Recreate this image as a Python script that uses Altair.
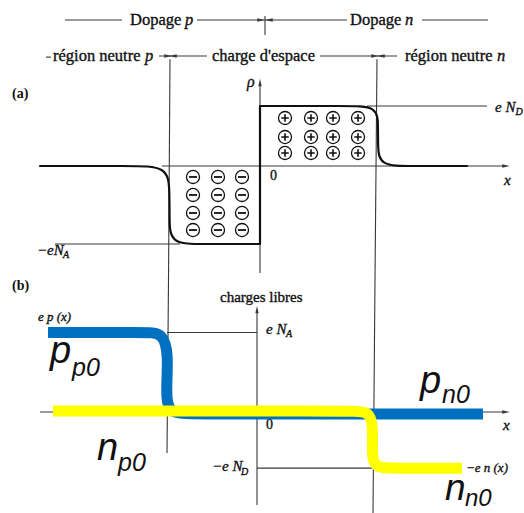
import altair as alt
import pandas as pd

# ---------------------------------------------------------------
# Jonction p-n : (a) densité de charge rho(x), (b) charges libres
# ---------------------------------------------------------------

# (a) space-charge density, in units of e*N (x in arbitrary length units)
XP_A, XN_A = -0.90, 1.17          # depletion-zone edges
N_A_A, N_D_A = 1.30, 1.00         # acceptor / donor levels
rho_x = [-2.20, -1.30, -0.92, -0.905, -0.905, -0.90, -0.58, 0.0, 0.0, 0.0,
         0.0, 0.0, 0.0, 0.86, 1.175, 1.18, 1.18, 1.19, 1.52, 2.07]
rho_y = [0.0, 0.0, 0.0, -0.42, -0.88, -1.30, -1.30, -1.30, -1.30, -1.30,
         1.00, 1.00, 1.00, 1.00, 1.00, 0.66, 0.34, 0.0, 0.0, 0.0]
plus_x = [0.25, 0.51, 0.73, 0.98]
plus_y = [0.80, 0.483, 0.217]
minus_x = [-0.67, -0.42, -0.18]
minus_y = [-0.183, -0.483, -0.783, -1.067]

# (b) free carriers: e p(x) (holes) and -e n(x) (electrons)
XP_B, XN_B = -0.90, 1.16
P_P0, N_N0 = 1.36, 0.96
hole_x = [-2.09, -1.12, -0.94, -0.885, -0.91, -0.89, -0.66, 2.26]
hole_y = [1.36, 1.36, 1.36, 0.98, 0.36, -0.034, -0.034, -0.034]
elec_x = [-2.04, 0.93, 1.13, 1.16, 1.15, 1.17, 1.38, 2.05]
elec_y = [0.017, 0.017, 0.017, -0.26, -0.70, -0.96, -0.96, -0.96]

SERIF = "Liberation Serif"
SANS = "Liberation Sans"
INK = "#111111"
THIN = "#383838"
BLUE = "#0070C0"
YELLOW = "#FFFF00"

XA = alt.Scale(domain=[-2.60, 2.64], nice=False, zero=False)
YA = alt.Scale(domain=[-1.90, 166 / 60], nice=False, zero=False)
XB = alt.Scale(domain=[-2.57, 2.67], nice=False, zero=False)
YB = alt.Scale(domain=[-101 / 58.5, 132 / 58.5], nice=False, zero=False)


def enc_xy(xs, ys):
    return dict(x=alt.X("x:Q", scale=xs, axis=None),
                y=alt.Y("y:Q", scale=ys, axis=None))


def rules(rows, xs, ys, width=1.1, color=THIN):
    df = pd.DataFrame(rows, columns=["x", "y", "x2", "y2"])
    return alt.Chart(df).mark_rule(strokeWidth=width, color=color, clip=True).encode(
        x2="x2:Q", y2="y2:Q", **enc_xy(xs, ys))


def path(px, py, xs, ys, width, color, cap="round"):
    df = pd.DataFrame({"x": px, "y": py, "i": range(len(px))})
    return alt.Chart(df).mark_line(
        interpolate="basis", strokeWidth=width, color=color,
        strokeCap=cap, strokeJoin="round", clip=True
    ).encode(order=alt.Order("i:Q"), **enc_xy(xs, ys))


def texts(rows, xs, ys, font=SERIF, style="normal", weight="normal",
          align="left", baseline="middle", stroke=0.35):
    df = pd.DataFrame(rows, columns=["t", "x", "y", "s"])
    props = dict(font=font, fontStyle=style, fontWeight=weight, align=align,
                 baseline=baseline, color=INK, clip=True)
    if stroke > 0:
        props.update(stroke=INK, strokeWidth=stroke)
    return alt.Chart(df).mark_text(**props).encode(
        text="t:N", size=alt.Size("s:Q", scale=None, legend=None),
        **enc_xy(xs, ys))


def arrows(rows, xs, ys):
    heads = {
        "right": "M-1,-0.45L1,0L-1,0.45Z",
        "left": "M1,-0.45L-1,0L1,0.45Z",
        "up": "M-0.45,1L0,-1L0.45,1Z",
    }
    df = pd.DataFrame(rows, columns=["x", "y", "d"])
    df["shape"] = df["d"].map(heads)
    return alt.Chart(df).mark_point(filled=True, size=56, color=THIN,
                                    opacity=1, clip=True).encode(
        shape=alt.Shape("shape:N", scale=None, legend=None), **enc_xy(xs, ys))


def marks_grid(xv, yv, xs, ys, shape, size, width):
    df = pd.DataFrame([(a, b) for a in xv for b in yv], columns=["x", "y"])
    return alt.Chart(df).mark_point(shape=shape, filled=False, size=size,
                                    strokeWidth=width, color=INK, opacity=1,
                                    clip=True).encode(**enc_xy(xs, ys))


# ------------------------- panel (a) -------------------------
ROW1, ROW2 = 2.433, 1.833
a_rules = rules([
    (-0.98, 0, 2.44, 0),                  # x axis
    (0, -1.783, 0, 1.37),                 # rho axis
    (XP_A, 1.78, -0.915, -1.90),          # depletion edges
    (XN_A, 1.78, 1.15, -1.90),
    (-2.05, -N_A_A, -0.80, -N_A_A),       # -eN_A level
    (1.07, N_D_A, 2.27, N_D_A),           # eN_D level
    (-1.95, ROW1, -1.38, ROW1),           # "Dopage" brackets
    (-0.63, ROW1, 0.87, ROW1),
    (0.05, 2.50, 0.05, 2.183),
    (1.62, ROW1, 2.28, ROW1),
    (-2.14, 1.815, -2.09, 1.815),         # region brackets
    (-1.01, ROW2, -0.53, ROW2),
    (0.60, ROW2, 1.37, ROW2),
], XA, YA)

a_arrows = arrows([
    (2.46, 0, "right"), (0, 1.39, "up"),
    (0.01, ROW1, "right"), (0.09, ROW1, "left"),
    (-0.92, ROW2, "right"), (-0.87, ROW2, "left"),
    (1.15, ROW2, "right"), (1.21, ROW2, "left"),
], XA, YA)

a_curve = path(rho_x, rho_y, XA, YA, 2.2, INK)

a_circles_p = marks_grid(plus_x, plus_y, XA, YA, "circle", 170, 1.3)
a_circles_m = marks_grid(minus_x, minus_y, XA, YA, "circle", 170, 1.3)
a_plus = marks_grid(plus_x, plus_y, XA, YA, "M-1,0H1M0,-1V1", 56, 1.6)
a_minus = marks_grid(minus_x, minus_y, XA, YA, "M-1,0H1", 64, 1.8)

a_roman = texts([
    ("Dopage", -1.30, ROW1, 16.5), ("Dopage", 0.90, ROW1, 16.5),
    ("région neutre", -2.07, ROW2, 16.5), ("charge d'espace", -0.48, ROW2, 16.5),
    ("région neutre", 1.45, ROW2, 16.5), ("0", 0.10, -0.167, 14),
], XA, YA)
a_italic = texts([
    ("p", -0.75, ROW1, 16.5), ("n", 1.45, ROW1, 16.5),
    ("p", -1.15, ROW2, 16.5), ("n", 2.37, ROW2, 16.5),
    ("ρ", -0.13, 1.40, 16), ("x", 2.44, -0.233, 15),
    ("e N", 2.35, 0.983, 15), ("D", 2.555, 0.90, 10),
    ("−eN", -2.23, -1.40, 15), ("A", -1.97, -1.483, 10),
], XA, YA, style="italic")
a_bold = texts([("(a)", -2.48, 1.20, 14)], XA, YA, weight="bold", stroke=0)

panel_a = alt.layer(
    a_rules, a_arrows, a_curve, a_circles_p, a_circles_m, a_plus, a_minus,
    a_roman, a_italic, a_bold
).properties(width=524, height=280)

# ------------------------- panel (b) -------------------------
b_rules = rules([
    (-2.17, 0, 2.47, 0),                  # x axis
    (0, -1.59, 0, 1.73),                  # vertical axis
    (-0.885, 2.26, XP_B, -0.70),          # depletion edges
    (1.18, 2.26, XN_B, -1.73),
    (XP_B, P_P0, 0, P_P0),                # eN_A level
    (0, -N_N0, XN_B, -N_N0),              # -eN_D level
], XB, YB)
b_arrows = arrows([(2.49, 0, "right"), (0, 1.75, "up")], XB, YB)

b_roman = texts([
    ("charges libres", -0.37, 1.966, 15), ("0", 0.09, -0.222, 14),
], XB, YB)
b_italic = texts([
    ("e p (x)", -2.19, 1.624, 13),
    ("e N", 0.09, 1.419, 15), ("A", 0.29, 1.333, 10),
    ("−e N", -0.45, -0.923, 15), ("D", -0.16, -1.026, 10),
    ("−e n (x)", 2.09, -0.957, 13), ("x", 2.46, -0.222, 15),
], XB, YB, style="italic")
b_bold = texts([("(b)", -2.45, 2.154, 14)], XB, YB, weight="bold", stroke=0)

holes = path(hole_x, hole_y, XB, YB, 11, BLUE, cap="butt")
electrons = path(elec_x, elec_y, XB, YB, 11, YELLOW, cap="butt")

carrier_labels = texts([
    ("p", -2.07, 0.838, 38), ("p0", -1.85, 0.615, 25),
    ("n", -1.60, -0.82, 38), ("p0", -1.39, -1.009, 25),
    ("p", 1.63, 0.325, 38), ("n0", 1.85, 0.154, 25),
    ("n", 1.88, -1.50, 37), ("n0", 2.08, -1.61, 24),
], XB, YB, font=SANS, style="italic", baseline="alphabetic", stroke=0)

panel_b = alt.layer(
    b_rules, b_arrows, b_roman, b_italic, b_bold, holes, electrons,
    carrier_labels
).properties(width=524, height=233)

chart = alt.vconcat(panel_a, panel_b, spacing=0).resolve_scale(
    x="independent", y="independent"
).properties(padding=0, background="white").configure_view(stroke=None)

chart.save("out.html", embed_options={"renderer": "svg", "actions": False})
